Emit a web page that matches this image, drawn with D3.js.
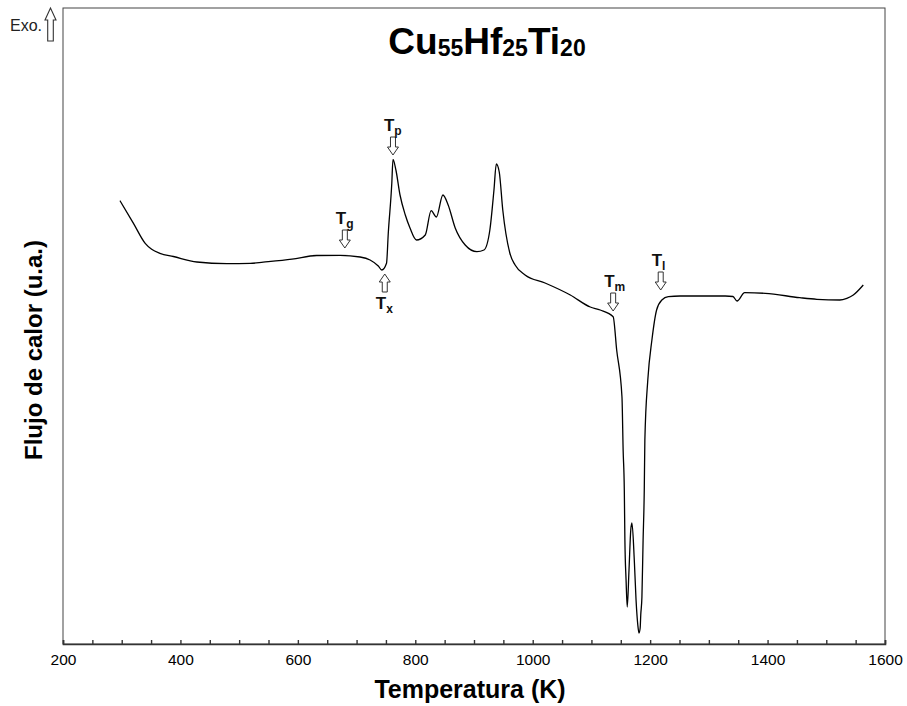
<!DOCTYPE html>
<html>
<head>
<meta charset="utf-8">
<script src="https://cdn.jsdelivr.net/npm/d3@7/dist/d3.min.js"></script>
<style>
  html, body { margin: 0; padding: 0; background: #fff; }
  svg { display: block; font-family: "Liberation Sans", Arial, sans-serif; }
</style>
</head>
<body>
<svg id="chart" width="907" height="706"></svg>
<script>
// ---- data (temperature in K, heat flow in arbitrary units) ----
const temperature = [297, 320, 340, 351, 365, 388, 428, 479, 519, 541, 590, 632, 672, 706, 723, 737, 743, 751, 754, 760, 762, 767, 774, 783, 791, 802, 817, 827, 836, 847, 856, 868, 885, 905, 917, 927, 934, 938, 943, 949, 961, 970, 987, 1021, 1064, 1098, 1115, 1137, 1143, 1152, 1154, 1156, 1157, 1159, 1161, 1164, 1167, 1169, 1173, 1176, 1179, 1181, 1183, 1184, 1186, 1188, 1190, 1191, 1196, 1203, 1211, 1220, 1231, 1251, 1285, 1328, 1341, 1348, 1361, 1396, 1455, 1484, 1523, 1535, 1546, 1563];
const heatFlow = [443.3, 420.7, 400.7, 394.7, 390.7, 387.5, 382, 380.3, 380.6, 381.8, 384.8, 388.5, 388.7, 387, 384, 378, 374, 380.7, 410.7, 460.7, 484.7, 474, 449, 429, 416, 404, 409, 433.3, 427, 449, 439, 416, 399, 392.3, 394, 414, 454, 480, 472, 434, 391, 379, 369, 361, 349, 337, 334, 327.3, 294, 247.3, 194, 154, 104, 64, 37, 74, 114, 121, 84, 44, 19, 11, 16, 29, 47, 104, 154, 204, 264, 304, 334, 344, 347.3, 348, 348, 348, 347.5, 343, 351.3, 350.7, 346.3, 344.7, 344, 345.7, 349, 359];

const xTicks = [200, 400, 600, 800, 1000, 1200, 1400, 1600];
const xMinorTicks = d3.range(200, 1601, 50);

// characteristic temperatures: label subscript, temperature, arrow tip (heat-flow units), direction
const markNames = ["g", "p", "x", "m", "l"];
const markTemps = [680, 762, 748, 1137, 1218];
const markTips = [396, 489, 370, 333, 354];
const markDirs = ["down", "down", "up", "down", "down"];

const titleParts = [["Cu", false], ["55", true], ["Hf", false], ["25", true], ["Ti", false], ["20", true]];

// ---- layout ----
const svg = d3.select("#chart");
const margin = { left: 63, right: 22, top: 8, bottom: 62 };
const W = 907, H = 706;
const x0 = margin.left, x1 = W - margin.right, y0 = margin.top, y1 = H - margin.bottom;

const x = d3.scaleLinear().domain([200, 1600]).range([x0, x1]);
const y = d3.scaleLinear().domain([0, 636]).range([y1, y0]);

// frame
svg.append("rect")
  .attr("x", x0).attr("y", y0).attr("width", x1 - x0).attr("height", y1 - y0)
  .attr("fill", "none").attr("stroke", "#444").attr("stroke-width", 1);

// x axis
const xAxis = d3.axisBottom(x).tickValues(xMinorTicks).tickSize(-4)
  .tickFormat(d => xTicks.includes(d) ? d : "");
const gx = svg.append("g").attr("transform", `translate(0,${y1})`).call(xAxis);
gx.select(".domain").attr("stroke", "#333").attr("stroke-width", 1.6);
gx.selectAll(".tick line").attr("stroke", "#333").attr("stroke-width", 1.4);
gx.selectAll(".tick text")
  .attr("y", 10).attr("dy", "0.71em")
  .attr("font-size", 15.5).attr("fill", "#000")
  .attr("font-family", "'Liberation Sans Narrow', 'Liberation Sans', Arial, sans-serif");

// axis titles
svg.append("text")
  .attr("x", 470).attr("y", 698)
  .attr("text-anchor", "middle")
  .attr("font-weight", "bold").attr("font-size", 25)
  .text("Temperatura (K)");

svg.append("text")
  .attr("transform", `translate(42,${350}) rotate(-90)`)
  .attr("text-anchor", "middle")
  .attr("font-weight", "bold").attr("font-size", 24)
  .text("Flujo de calor (u.a.)");

// title
const title = svg.append("text").attr("x", 487).attr("y", 56)
  .attr("text-anchor", "middle").attr("font-weight", "bold");
titleParts.forEach(([t, sub]) => {
  title.append("tspan")
    .attr("font-size", sub ? 23 : 37)
    .attr("dy", sub ? 2 : -2)
    .text(t);
});

// curve
const data = temperature.map((t, i) => ({ t, v: heatFlow[i] }));
const line = d3.line().x(d => x(d.t)).y(d => y(d.v)).curve(d3.curveMonotoneX);
svg.append("path").datum(data)
  .attr("d", line)
  .attr("fill", "none").attr("stroke", "#000").attr("stroke-width", 1.3)
  .attr("stroke-linejoin", "round");

// hollow arrow helper
function arrowPath(cx, tipY, dir, len, headH, headW, shaftW) {
  const s = dir === "down" ? -1 : 1;
  const hb = tipY + s * headH, tail = tipY + s * len;
  return `M${cx},${tipY} L${cx - headW},${hb} L${cx - shaftW},${hb} L${cx - shaftW},${tail} ` +
         `L${cx + shaftW},${tail} L${cx + shaftW},${hb} L${cx + headW},${hb} Z`;
}

markNames.forEach((n, i) => {
  const cx = x(markTemps[i]);
  const tip = y(markTips[i]);
  const dir = markDirs[i];
  svg.append("path")
    .attr("d", arrowPath(cx, tip, dir, 18, 8, 5.5, 2.5))
    .attr("fill", "#fff").attr("stroke", "#333").attr("stroke-width", 1);
  const baseY = dir === "down" ? tip - 18 - 6 : tip + 18 + 17;
  const lbl = svg.append("text").attr("x", cx - 9).attr("y", baseY)
    .attr("font-weight", "bold").attr("fill", "#111");
  lbl.append("tspan").attr("font-size", 17).text("T");
  lbl.append("tspan").attr("font-size", 12).attr("dy", 4).text(n);
});

// Exo. indicator
svg.append("path")
  .attr("d", arrowPath(50.5, 8, "up", 33, 12, 5.5, 2.8))
  .attr("fill", "#fff").attr("stroke", "#333").attr("stroke-width", 1.1);
svg.append("text").attr("x", 10).attr("y", 31)
  .attr("font-size", 16).attr("fill", "#222").text("Exo.");
</script>
</body>
</html>
